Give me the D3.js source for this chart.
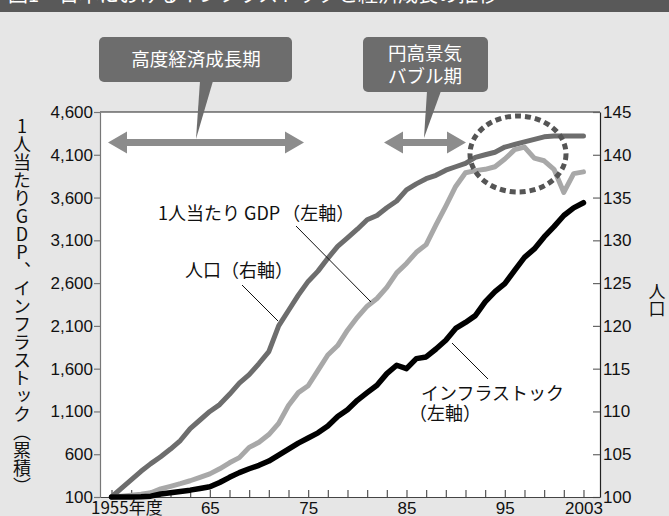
<!DOCTYPE html>
<html lang="ja">
<head>
<meta charset="utf-8">
<script src="https://cdn.jsdelivr.net/npm/d3@7"></script>
<style>
  html, body { margin: 0; padding: 0; background: #e6e6e6; }
  svg { display: block; }
  .jp { font-family: "Noto Sans CJK JP", "Noto Sans", sans-serif; }
  .num { font-family: "Liberation Sans", Arial, sans-serif; }
</style>
</head>
<body>
<svg id="chart" width="669" height="516"></svg>
<script>
// Fiscal years 1955–2003
const years = d3.range(1955, 2004);

// Population (right axis, 1955 = 100)
const population = [
  100.0, 101.0, 102.0, 103.0, 103.9, 104.7, 105.6, 106.6, 108.0, 109.0,
  110.0, 110.8, 112.0, 113.3, 114.3, 115.6, 117.0, 120.0, 121.8, 123.6,
  125.2, 126.4, 127.9, 129.3, 130.3, 131.3, 132.4, 132.9, 133.8, 134.6,
  135.9, 136.6, 137.2, 137.6, 138.2, 138.6, 139.0, 139.7, 140.0, 140.3,
  140.9, 141.2, 141.5, 141.8, 142.1, 142.2, 142.2, 142.2, 142.2
];

// GDP per capita (left axis, 1955 = 100)
const gdpPerCapita = [
  100, 110, 120, 132, 150, 195, 225, 256, 290, 330,
  370, 430, 500, 560, 680, 740, 830, 960, 1170, 1320,
  1400, 1580, 1760, 1870, 2050, 2200, 2330, 2420, 2550, 2720,
  2830, 2960, 3050, 3280, 3500, 3730, 3890, 3915, 3930, 3960,
  4050, 4160, 4190, 4060, 4030, 3930, 3660, 3880, 3900
];

// Cumulative infrastructure stock (left axis, 1955 = 100)
const infraStock = [
  100, 100, 100, 102, 110, 135, 150, 165, 180, 200,
  220, 270, 330, 385, 430, 470, 520, 590, 660, 730,
  790, 850, 930, 1040, 1120, 1230, 1320, 1406, 1542, 1640,
  1600, 1717, 1737, 1830, 1932, 2070, 2140, 2220, 2380, 2500,
  2594, 2750, 2900, 3000, 3140, 3260, 3390, 3480, 3540
];

// Tick values and labels
const leftTicks = d3.range(100, 4601, 500);
const rightTicks = d3.range(100, 146, 5);
const xTicks = d3.range(1955, 2004, 2);
const xTickLabels = { 1955: "1955年度", 1965: "65", 1975: "75", 1985: "85", 1995: "95", 2003: "2003" };

const svg = d3.select("#chart");
const W = 669, H = 516;
const plot = { left: 100, right: 600, top: 112, bottom: 497 };

const x = d3.scaleLinear().domain([1953.83, 2004.68]).range([plot.left, plot.right]);
const yL = d3.scaleLinear().domain([100, 4600]).range([plot.bottom, plot.top]);
const yR = d3.scaleLinear().domain([100, 145]).range([plot.bottom, plot.top]);

// Page background and title strip
svg.append("rect").attr("width", W).attr("height", H).attr("fill", "#e6e6e6");
svg.append("rect").attr("width", W).attr("height", 12).attr("fill", "#595959");
svg.append("text").attr("class", "jp").attr("x", 8).attr("y", 2)
  .attr("font-size", 20).attr("fill", "#fff")
  .text("図1　日本におけるインフラストックと経済成長の推移");

// Plot area
svg.append("rect")
  .attr("x", plot.left).attr("y", plot.top)
  .attr("width", plot.right - plot.left).attr("height", plot.bottom - plot.top)
  .attr("fill", "#fff");
svg.append("line")
  .attr("x1", plot.left).attr("x2", plot.right)
  .attr("y1", plot.top).attr("y2", plot.top)
  .attr("stroke", "#222").attr("stroke-width", 1.2);

// Period callouts
const boxColor = "#6d6d6d";
const arrowColor = "#8c8c8c";

function callout(x0, x1, y0, y1, tip, baseL, baseR, lines, baselines, cx) {
  svg.append("rect").attr("x", x0).attr("y", y0)
    .attr("width", x1 - x0).attr("height", y1 - y0)
    .attr("rx", 5).attr("fill", boxColor);
  svg.append("path")
    .attr("d", `M${baseL},${y1 - 1}L${baseR},${y1 - 1}L${tip[0]},${tip[1]}Z`)
    .attr("fill", boxColor);
  lines.forEach((t, i) => {
    svg.append("text").attr("class", "jp")
      .attr("x", cx).attr("y", baselines[i])
      .attr("text-anchor", "middle").attr("font-size", 18.5).attr("fill", "#fff")
      .text(t);
  });
}

function doubleArrow(xa, xb, yc) {
  const hl = 19, hh = 11, sh = 3.5;
  const d = `M${xa},${yc}L${xa + hl},${yc - hh}L${xa + hl},${yc - sh}L${xb - hl},${yc - sh}` +
            `L${xb - hl},${yc - hh}L${xb},${yc}L${xb - hl},${yc + hh}L${xb - hl},${yc + sh}` +
            `L${xa + hl},${yc + sh}L${xa + hl},${yc + hh}Z`;
  svg.append("path").attr("d", d).attr("fill", arrowColor);
}

doubleArrow(108, 304, 142.5);
doubleArrow(384, 466, 142.5);
callout(99, 292, 37, 82, [196, 139], 200, 213, ["高度経済成長期"], [66], 196);
callout(363, 488, 37, 92, [424, 138], 427, 441, ["円高景気", "バブル期"], [60, 83], 425);

// Axes
const axL = svg.append("g").attr("transform", `translate(${plot.left},0)`)
  .call(d3.axisLeft(yL).tickValues(leftTicks).tickFormat(d3.format(","))
    .tickSizeInner(6).tickSizeOuter(0).tickPadding(1));
axL.selectAll("path, line").attr("stroke", "#777").attr("stroke-width", 1.2);

const axR = svg.append("g").attr("transform", `translate(${plot.right},0)`)
  .call(d3.axisRight(yR).tickValues(rightTicks).tickFormat(d3.format("d"))
    .tickSizeInner(-7).tickSizeOuter(0).tickPadding(3));
axR.selectAll("path").attr("stroke", "#222").attr("stroke-width", 1.2);
axR.selectAll("line").attr("stroke", "#666").attr("stroke-width", 1.2);

const axB = svg.append("g").attr("transform", `translate(0,${plot.bottom})`)
  .call(d3.axisBottom(x).tickValues(xTicks).tickFormat(d => xTickLabels[d] || "")
    .tickSizeInner(-7).tickSizeOuter(0).tickPadding(5));
axB.selectAll("path").attr("stroke", "#444").attr("stroke-width", 1.2);
axB.selectAll("line").attr("stroke", "#555").attr("stroke-width", 1.2);
axB.selectAll("text").filter(d => d === 1955)
  .attr("text-anchor", "start").attr("x", -21);

[axL, axR, axB].forEach(a => {
  a.selectAll("text").attr("class", "num").attr("font-size", 17).attr("fill", "#111");
});
axB.selectAll("text").filter(d => d === 1955).attr("class", "jp").attr("font-size", 17);

// Axis titles (vertical)
svg.append("text").attr("class", "jp")
  .attr("x", 22).attr("y", 117)
  .attr("font-size", 18).attr("fill", "#111")
  .style("writing-mode", "vertical-rl").style("text-orientation", "upright")
  .text("1人当たりGDP、インフラストック（累積）");
svg.append("text").attr("class", "jp")
  .attr("x", 657).attr("y", 283)
  .attr("font-size", 17).attr("fill", "#111")
  .style("writing-mode", "vertical-rl").style("text-orientation", "upright")
  .text("人口");

// Series lines
const rows = years.map((yr, i) => ({ yr, pop: population[i], gdp: gdpPerCapita[i], inf: infraStock[i] }));

const series = [
  { key: "pop", scale: yR, color: "#6d6d6d", width: 5 },
  { key: "gdp", scale: yL, color: "#a8a8a8", width: 5 },
  { key: "inf", scale: yL, color: "#000", width: 5.5 }
];
series.forEach(s => {
  svg.append("path").datum(rows)
    .attr("fill", "none").attr("stroke", s.color).attr("stroke-width", s.width)
    .attr("stroke-linejoin", "round").attr("stroke-linecap", "round")
    .attr("d", d3.line().x(d => x(d.yr)).y(d => s.scale(d[s.key])));
});

// Highlight ring around the late-1990s peak
svg.append("ellipse")
  .attr("cx", 518).attr("cy", 154).attr("rx", 48).attr("ry", 38)
  .attr("fill", "none").attr("stroke", "#555").attr("stroke-width", 5)
  .attr("stroke-dasharray", "6 4");

// Series labels with leader lines
function leader(x1, y1, x2, y2) {
  svg.append("line").attr("x1", x1).attr("y1", y1).attr("x2", x2).attr("y2", y2)
    .attr("stroke", "#111").attr("stroke-width", 1);
}
const gdpLabel = svg.append("text").attr("class", "jp").attr("x", 158).attr("y", 220)
  .attr("font-size", 18).attr("fill", "#111");
gdpLabel.append("tspan").text("1人当たり");
gdpLabel.append("tspan").attr("dx", 4).text("GDP");
gdpLabel.append("tspan").attr("dx", 2).text("（左軸）");
leader(296, 226, 371, 302);

svg.append("text").attr("class", "jp").attr("x", 185).attr("y", 277)
  .attr("font-size", 18).attr("fill", "#111").text("人口（右軸）");
leader(242, 285, 278, 321);

const infLabel = svg.append("text").attr("class", "jp").attr("font-size", 18).attr("fill", "#111");
infLabel.append("tspan").attr("x", 421).attr("y", 400).text("インフラストック");
infLabel.append("tspan").attr("x", 409).attr("y", 420).text("（左軸）");
leader(452, 343, 488, 379);
</script>
</body>
</html>
